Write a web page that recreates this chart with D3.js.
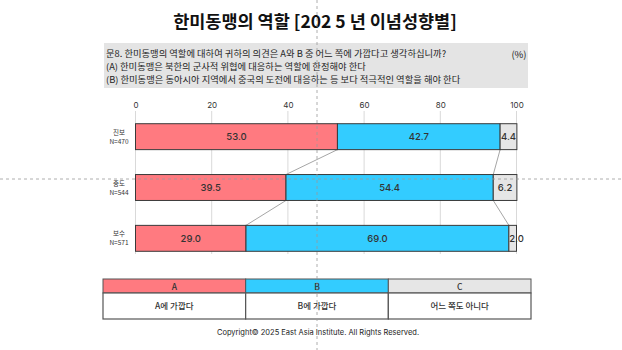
<!DOCTYPE html>
<html><head><meta charset="utf-8">
<script src="https://cdn.jsdelivr.net/npm/d3@7"></script>
<style>body{margin:0;background:#fff;}svg{display:block;font-family:"Noto Sans CJK KR","Noto Sans",sans-serif;}</style>
</head><body><svg id="c" width="622" height="350"></svg>
<script>
const categories = ["진보", "중도", "보수"];
const sampleSizes = ["N=470", "N=544", "N=571"];
const seriesNames = ["A", "B", "C"];
const seriesA = [53.0, 39.5, 29.0];
const seriesB = [42.7, 54.4, 69.0];
const seriesC = [4.4, 6.2, 2.0];
const ticks = [0, 20, 40, 60, 80, 100];
const legendLabels = ["A에 가깝다", "B에 가깝다", "어느 쪽도 아니다"];
const title = "한미동맹의 역할 [202 5 년 이념성향별]";
const questionLines = [
  "문8. 한미동맹의 역할에 대하여 귀하의 의견은 A와 B 중 어느 쪽에 가깝다고 생각하십니까?",
  "(A) 한미동맹은 북한의 군사적 위협에 대응하는 역할에 한정해야 한다",
  "(B) 한미동맹은 동아시아 지역에서 중국의 도전에 대응하는 등 보다 적극적인 역할을 해야 한다"
];
const colors = ["#ff7a80", "#33ccff", "#e6e6e6"];

const svg = d3.select("#c");
const x = d3.scaleLinear().domain([0, 100]).range([135.5, 516.5]);
const y = d3.scaleBand().domain(categories).range([111, 264]).paddingInner(0.49).paddingOuter(0.25);

// title
svg.append("text").attr("x", 315).attr("y", 28).attr("text-anchor", "middle")
  .attr("font-size", 17.5).attr("font-weight", "bold").attr("fill", "#111").text(title);

// question box
svg.append("rect").attr("x", 104).attr("y", 43).attr("width", 424).attr("height", 45).attr("fill", "#e4e4e4");
const qg = svg.append("g").attr("transform", "translate(106,0) scale(1.06,1)");
questionLines.forEach((t, i) => {
  qg.append("text").attr("x", 0).attr("y", 57.3 + i * 12.9).attr("font-size", 8.8).attr("fill", "#222").text(t);
});
svg.append("text").attr("x", 519).attr("y", 58).attr("text-anchor", "middle").attr("font-size", 9.5).attr("fill", "#222").text("(%)");

// grid
const g = svg.append("g");
g.selectAll("line.grid").data(ticks).join("line")
  .attr("x1", d => x(d)).attr("x2", d => x(d)).attr("y1", 111).attr("y2", 254)
  .attr("stroke", "#d9d9d9").attr("stroke-width", 1);
const xAxis = d3.axisTop(x).tickValues(ticks).tickSize(0).tickPadding(0);
const ax = svg.append("g").attr("transform", "translate(0,108)").call(xAxis);
ax.select(".domain").remove();
ax.selectAll("text").attr("font-size", 8).attr("fill", "#333").attr("font-family", "Inter, 'Noto Sans', sans-serif");

// stacked data
const data = categories.map((c, i) => ({cat: c, vals: [seriesA[i], seriesB[i], seriesC[i]]}));
const stacked = data.map(d => {
  let acc = 0;
  return d.vals.map((v, k) => { const s = {cat: d.cat, k, x0: acc, x1: acc + v, v}; acc += v; return s; });
});

// connector lines
for (let i = 0; i < categories.length - 1; i++) {
  for (let k = 0; k < 2; k++) {
    svg.append("line")
      .attr("x1", x(stacked[i][k].x1)).attr("y1", y(categories[i]) + y.bandwidth())
      .attr("x2", x(stacked[i + 1][k].x1)).attr("y2", y(categories[i + 1]))
      .attr("stroke", "#a6a6a6").attr("stroke-width", 1);
  }
}

const bars = svg.append("g");
stacked.forEach(row => {
  bars.selectAll(null).data(row).join("rect")
    .attr("x", d => x(d.x0)).attr("y", d => y(d.cat))
    .attr("width", d => x(d.x1) - x(d.x0)).attr("height", y.bandwidth())
    .attr("fill", d => colors[d.k]).attr("stroke", "#3a3a3a").attr("stroke-width", 1);
  bars.selectAll(null).data(row).join("text")
    .attr("x", d => d.k === 2 && d.v < 3 ? x(d.x1) : (x(d.x0) + x(d.x1)) / 2)
    .attr("y", d => y(d.cat) + y.bandwidth() / 2 + 3.5)
    .attr("text-anchor", "middle").attr("font-size", 9.5).attr("font-weight", 500).attr("fill", "#333")
    .attr("font-family", "Inter, 'Noto Sans', sans-serif")
    .text(d => d.v.toFixed(1));
});

// row labels
categories.forEach((c, i) => {
  const cy = y(c) + y.bandwidth() / 2;
  svg.append("text").attr("x", 119).attr("y", cy - 2).attr("text-anchor", "middle").attr("font-size", 6.5).attr("fill", "#333").text(c);
  svg.append("text").attr("x", 119).attr("y", cy + 7).attr("text-anchor", "middle").attr("font-size", 6.5).attr("fill", "#333").text(sampleSizes[i]);
});

// legend table
const lx = d3.scaleBand().domain(seriesNames).range([103, 531]);
const lg = svg.append("g");
seriesNames.forEach((s, i) => {
  const x0 = lx(s), w = lx.bandwidth();
  lg.append("rect").attr("x", x0).attr("y", 279).attr("width", w).attr("height", 14).attr("fill", colors[i]).attr("stroke", "#555").attr("stroke-width", 1);
  lg.append("rect").attr("x", x0).attr("y", 293).attr("width", w).attr("height", 26).attr("fill", "#fff").attr("stroke", "#555").attr("stroke-width", 1.2);
  lg.append("text").attr("x", x0 + w / 2).attr("y", 289.5).attr("text-anchor", "middle").attr("font-size", 8.5).attr("font-weight", 500).attr("fill", "#333").text(s);
  lg.append("text").attr("x", x0 + w / 2).attr("y", 309).attr("text-anchor", "middle").attr("font-size", 8.5).attr("font-weight", 500).attr("fill", "#333").text(legendLabels[i]);
});

svg.append("text").attr("x", 318).attr("y", 335).attr("text-anchor", "middle").attr("font-size", 7.5).attr("fill", "#222")
  .attr("font-family", "Inter, 'Noto Sans', sans-serif").text("Copyright© 2025 East Asia Institute. All Rights Reserved.");

// guide dashed lines
svg.append("line").attr("x1", 317).attr("x2", 317).attr("y1", 0).attr("y2", 350).attr("stroke", "#999").attr("stroke-dasharray", "3,3").attr("stroke-width", 0.8);
svg.append("line").attr("x1", 0).attr("x2", 622).attr("y1", 179).attr("y2", 179).attr("stroke", "#999").attr("stroke-dasharray", "3,3").attr("stroke-width", 0.8);
</script></body></html>
